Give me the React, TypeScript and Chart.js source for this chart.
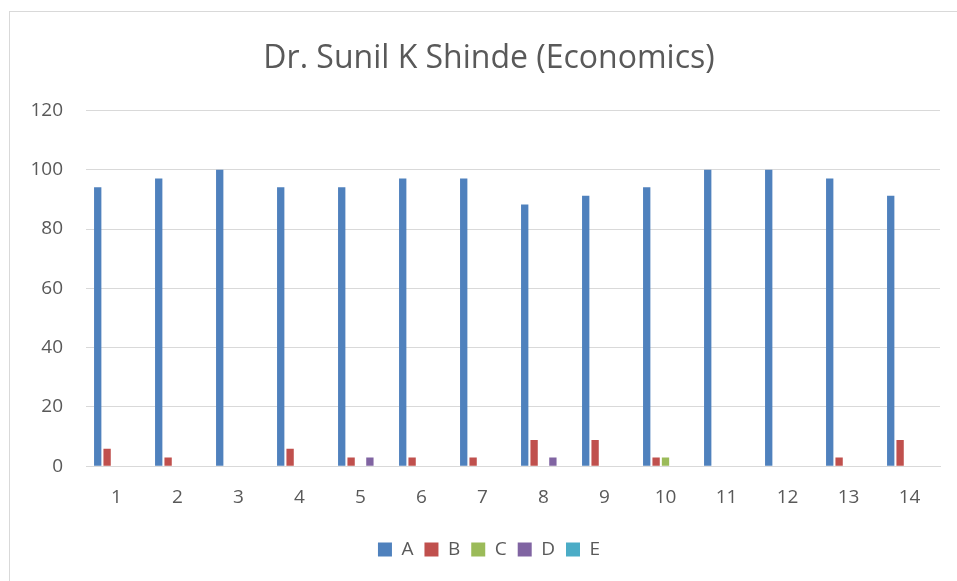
import React, { useEffect, useRef } from "react";
import { Chart, registerables } from "chart.js";

Chart.register(...registerables);

const TITLE = "Dr. Sunil K Shinde (Economics)";
const categories = ["1", "2", "3", "4", "5", "6", "7", "8", "9", "10", "11", "12", "13", "14"];
const seriesNames = ["A", "B", "C", "D", "E"];
const seriesColors = ["#4F81BD", "#C0504D", "#9BBB59", "#8064A2", "#4BACC6"];
const valuesA = [94.12, 97.06, 100, 94.12, 94.12, 97.06, 97.06, 88.24, 91.18, 94.12, 100, 100, 97.06, 91.18];
const valuesB = [5.88, 2.94, 0, 5.88, 2.94, 2.94, 2.94, 8.82, 8.82, 2.94, 0, 0, 2.94, 8.82];
const valuesC = [0, 0, 0, 0, 0, 0, 0, 0, 0, 2.94, 0, 0, 0, 0];
const valuesD = [0, 0, 0, 0, 2.94, 0, 0, 2.94, 0, 0, 0, 0, 0, 0];
const valuesE = [0, 0, 0, 0, 0, 0, 0, 0, 0, 0, 0, 0, 0, 0];
const yMin = 0;
const yMax = 120;
const yStep = 20;

const FONT = "'Open Sans', 'Noto Sans', sans-serif";
const TEXT = "#595959";
const GRID = "#d9d9d9";

const framePlugin = {
  id: "frame",
  beforeDraw(chart: any) {
    const ctx = chart.ctx;
    ctx.save();
    ctx.fillStyle = "#ffffff";
    ctx.fillRect(0, 0, chart.width, chart.height);
    ctx.strokeStyle = GRID;
    ctx.lineWidth = 1;
    ctx.strokeRect(9.5, 11.5, chart.width + 20, chart.height + 20);
    ctx.restore();
  },
};

export default function App() {
  const ref = useRef<HTMLCanvasElement>(null);
  useEffect(() => {
    if (!ref.current) return;
    const all = [valuesA, valuesB, valuesC, valuesD, valuesE];
    const chart = new Chart(ref.current, {
      type: "bar",
      data: {
        labels: categories,
        datasets: seriesNames.map((n, i) => ({
          label: n,
          data: all[i],
          backgroundColor: seriesColors[i],
          borderWidth: 0,
          barPercentage: 0.78,
          categoryPercentage: 0.77,
        })),
      },
      options: {
        animation: false,
        responsive: false,
        devicePixelRatio: 1,
        layout: { padding: { left: 22, right: 1, top: 16, bottom: 12 } },
        plugins: {
          tooltip: { enabled: false },
          title: {
            display: true,
            text: TITLE,
            color: TEXT,
            font: { family: FONT, size: 32, weight: "normal" },
            padding: { top: 24, bottom: 32 },
          },
          legend: {
            position: "bottom",
            labels: {
              color: TEXT,
              font: { family: FONT, size: 19 },
              boxWidth: 14,
              boxHeight: 14,
              padding: 11,
            },
          },
        },
        scales: {
          x: {
            grid: { display: false, drawTicks: false },
            border: { display: true, color: GRID },
            ticks: { color: TEXT, font: { family: FONT, size: 19 }, padding: 20 },
          },
          y: {
            min: yMin,
            max: yMax,
            ticks: { stepSize: yStep, color: TEXT, font: { family: FONT, size: 19 }, padding: 23 },
            grid: { color: GRID, drawTicks: false },
            border: { display: false },
            afterFit(scale: any) {
              scale.width = 64;
            },
          },
          y2: {
            position: "right",
            display: true,
            min: yMin,
            max: yMax,
            ticks: { display: false },
            grid: { display: false, drawTicks: false },
            border: { display: false },
            afterFit(scale: any) {
              scale.width = 16;
            },
          },
        },
      },
      plugins: [framePlugin],
    });
    return () => chart.destroy();
  }, []);
  return (
    <div style={{ position: "fixed", left: 0, top: 0, width: 957, height: 581 }}>
      <canvas ref={ref} width={957} height={581} style={{ display: "block" }} />
    </div>
  );
}
